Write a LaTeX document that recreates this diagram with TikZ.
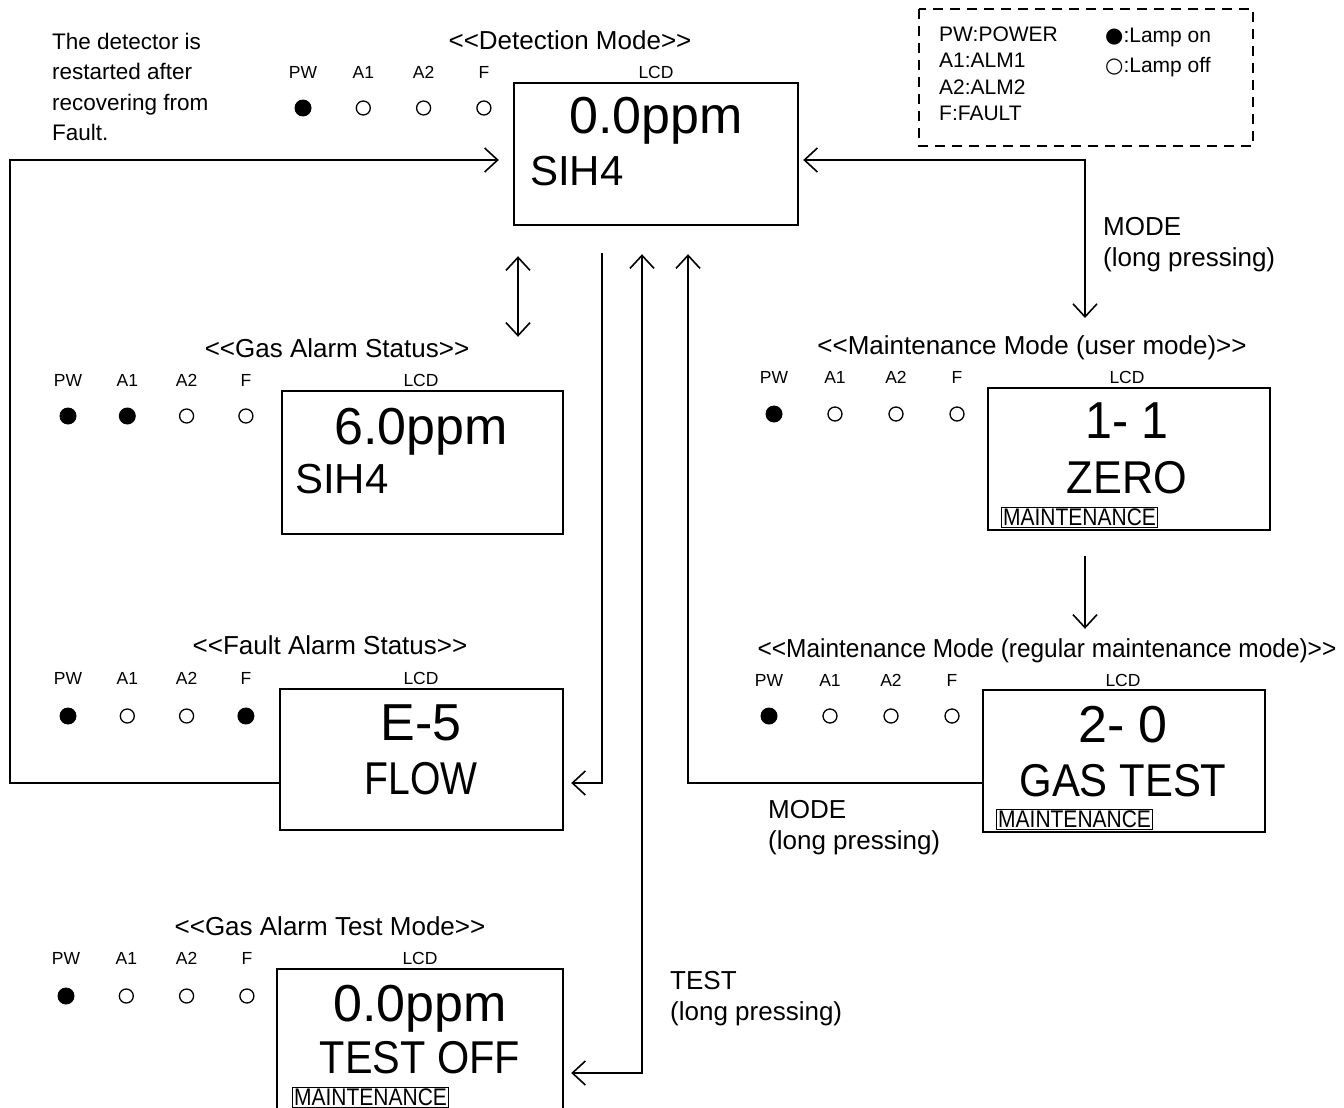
\documentclass[tikz,border=0pt]{standalone}
\usepackage{fontspec}
\setmainfont{Liberation Sans}
\newfontfamily\symfont{DejaVu Sans}
\usepackage{graphicx}
\usetikzlibrary{arrows.meta,positioning}

\newcommand{\sqz}[2]{\scalebox{#1}[1]{#2}}

\begin{document}
\begin{tikzpicture}[x=1pt,y=-1pt,
  lcd/.style={draw,line width=2.4pt,inner sep=0pt},
  ttl/.style={font=\fontsize{26}{28}\selectfont,anchor=base,inner sep=0pt},
  led/.style={font=\fontsize{17.5}{20}\selectfont,anchor=base,inner sep=0pt},
  big/.style={font=\fontsize{52}{56}\selectfont,anchor=base,inner sep=0pt},
  mid/.style={font=\fontsize{46}{50}\selectfont,anchor=base,inner sep=0pt},
  txt/.style={font=\fontsize{22.5}{30.5}\selectfont,align=left,anchor=base west,inner sep=0pt},
  key/.style={txt,font=\fontsize{26}{31}\selectfont},
  mnt/.style={draw,line width=1.3pt,font=\fontsize{24}{26}\selectfont,inner sep=1.5pt,anchor=south west},
  lampon/.style={circle,fill,minimum size=17pt,inner sep=0pt},
  lampoff/.style={circle,draw,line width=1.3pt,minimum size=14pt,inner sep=0pt},
  ar/.style={line width=1.6pt,-{Straight Barb[length=13pt,width=24pt]}},
  dar/.style={line width=1.6pt,{Straight Barb[length=13pt,width=24pt]}-{Straight Barb[length=13pt,width=24pt]}}]
\useasboundingbox (0,0) rectangle (1344,1108);

% legend (multi-line nodes sit on their last line)
\draw[line width=2.4pt,dash pattern=on 10pt off 7pt] (919,9) rectangle (1253,146);
\node[txt,font=\fontsize{21}{26.5}\selectfont] (key1) at (939,120.5) {PW:POWER\\A1:ALM1\\A2:ALM2\\F:FAULT};
\node[txt,font=\fontsize{21}{30}\selectfont] (key2) at (1105,73) {{\symfont\char"25CF}:Lamp on\\{\symfont\char"25CB}:Lamp off};

% detection mode
\node[txt] (note) at (52,140.5) {The detector is\\restarted after\\recovering from\\Fault.};
\node[ttl] (det-t) at (570,50) {<{}<Detection Mode>{}>};
\node[led] (det-c) at (656,78) {LCD};
\foreach \lab/\st [count=\i from 0] in {PW/lampon,A1/lampoff,A2/lampoff,F/lampoff} {
  \node[led] (det-n\i) at (303+60.3*\i,78) {\lab};
  \node[\st] (det-l\i) at (303+60.3*\i,108) {};
}
\node[lcd,minimum width=284pt,minimum height=142pt] (det) at (656,154) {};
\node[big] (det-v) at (656,133) {0.0ppm};
\node[mid,font=\fontsize{42}{46}\selectfont,anchor=base west] (det-g) at (530,185) {SIH4};

% gas alarm status
\node[ttl] (gas-t) at (337,357) {<{}<Gas Alarm Status>{}>};
\node[led] (gas-c) at (421,386) {LCD};
\foreach \lab/\st [count=\i from 0] in {PW/lampon,A1/lampon,A2/lampoff,F/lampoff} {
  \node[led] (gas-n\i) at (68+59.3*\i,386) {\lab};
  \node[\st] (gas-l\i) at (68+59.3*\i,416) {};
}
\node[lcd,minimum width=281pt,minimum height=143pt] (gas) at (422.5,462.5) {};
\node[big] (gas-v) at (421,444) {6.0ppm};
\node[mid,font=\fontsize{42}{46}\selectfont,anchor=base west] (gas-g) at (295,493) {SIH4};

% fault alarm status
\node[ttl] (flt-t) at (330,654) {<{}<Fault Alarm Status>{}>};
\node[led] (flt-c) at (421,684) {LCD};
\foreach \lab/\st [count=\i from 0] in {PW/lampon,A1/lampoff,A2/lampoff,F/lampon} {
  \node[led] (flt-n\i) at (68+59.3*\i,684) {\lab};
  \node[\st] (flt-l\i) at (68+59.3*\i,716) {};
}
\node[lcd,minimum width=283pt,minimum height=141pt] (flt) at (421.5,759.5) {};
\node[big] (flt-v) at (421,740) {E-5};
\node[mid] (flt-g) at (421,794) {\sqz{0.85}{FLOW}};

% gas alarm test mode
\node[ttl] (tst-t) at (330,935) {<{}<Gas Alarm Test Mode>{}>};
\node[led] (tst-c) at (420,964) {LCD};
\foreach \lab/\st [count=\i from 0] in {PW/lampon,A1/lampoff,A2/lampoff,F/lampoff} {
  \node[led] (tst-n\i) at (66+60.3*\i,964) {\lab};
  \node[\st] (tst-l\i) at (66+60.3*\i,996) {};
}
\node[lcd,minimum width=286pt,minimum height=146pt] (tst) at (420,1042) {};
\node[big] (tst-v) at (420,1021) {0.0ppm};
\node[mid] (tst-g) at (420,1073) {\sqz{0.9}{TEST OFF}};
\node[mnt] (tst-m) at (292,1108) {\sqz{0.875}{MAINTENANCE}};

% maintenance mode (user mode)
\node[ttl] (usr-t) at (1032,354) {<{}<Maintenance Mode (user mode)>{}>};
\node[led] (usr-c) at (1127,383) {LCD};
\foreach \lab/\st [count=\i from 0] in {PW/lampon,A1/lampoff,A2/lampoff,F/lampoff} {
  \node[led] (usr-n\i) at (774+61*\i,383) {\lab};
  \node[\st] (usr-l\i) at (774+61*\i,414) {};
}
\node[lcd,minimum width=282pt,minimum height=142pt] (usr) at (1129,459) {};
\node[big] (usr-v) at (1127,438) {\sqz{0.93}{1- 1}};
\node[mid] (usr-g) at (1127,493) {\sqz{0.94}{ZERO}};
\node[mnt] (usr-m) at (1001,528) {\sqz{0.875}{MAINTENANCE}};

% maintenance mode (regular maintenance mode)
\node[ttl] (reg-t) at (1047,657) {\sqz{0.94}{<{}<Maintenance Mode (regular maintenance mode)>{}>}};
\node[led] (reg-c) at (1123,686) {LCD};
\foreach \lab/\st [count=\i from 0] in {PW/lampon,A1/lampoff,A2/lampoff,F/lampoff} {
  \node[led] (reg-n\i) at (769+61*\i,686) {\lab};
  \node[\st] (reg-l\i) at (769+61*\i,716) {};
}
\node[lcd,minimum width=282pt,minimum height=142pt] (reg) at (1124,761) {};
\node[big] (reg-v) at (1123,742) {2- 0};
\node[mid] (reg-g) at (1123,796) {\sqz{0.91}{GAS TEST}};
\node[mnt] (reg-m) at (996,830) {\sqz{0.875}{MAINTENANCE}};

% key labels
\node[key] (mode1) at (1103,266) {MODE\\(long pressing)};
\node[key] (mode2) at (768,849) {MODE\\(long pressing)};
\node[key] (test1) at (670,1020) {TEST\\(long pressing)};

% connectors
\coordinate (lp) at (10,160);
\coordinate (rp) at (1085,160);
\coordinate (dn) at (1085,318);
\draw[ar] ([yshift=-23.5pt]flt.west) -| (lp) -- ([shift={(-14,6)}]det.west);
\draw[dar] ([shift={(4,6)}]det.east) -- (rp) -- (dn);
\draw[dar] ([shift={(-138,30)}]det.south) -- ([shift={(95.5,-53)}]gas.north);
\draw[ar] ([shift={(-54,27)}]det.south) |- ([shift={(7,23.5)}]flt.east);
\draw[dar] ([shift={(-14,28)}]det.south) |- ([shift={(7,31)}]tst.east);
\draw[ar] ([yshift=-22pt]reg.west) -| ([shift={(32,28)}]det.south);
\draw[ar] ([shift={(-44,25)}]usr.south) -- ([shift={(-39,-60)}]reg.north);
\end{tikzpicture}
\end{document}
